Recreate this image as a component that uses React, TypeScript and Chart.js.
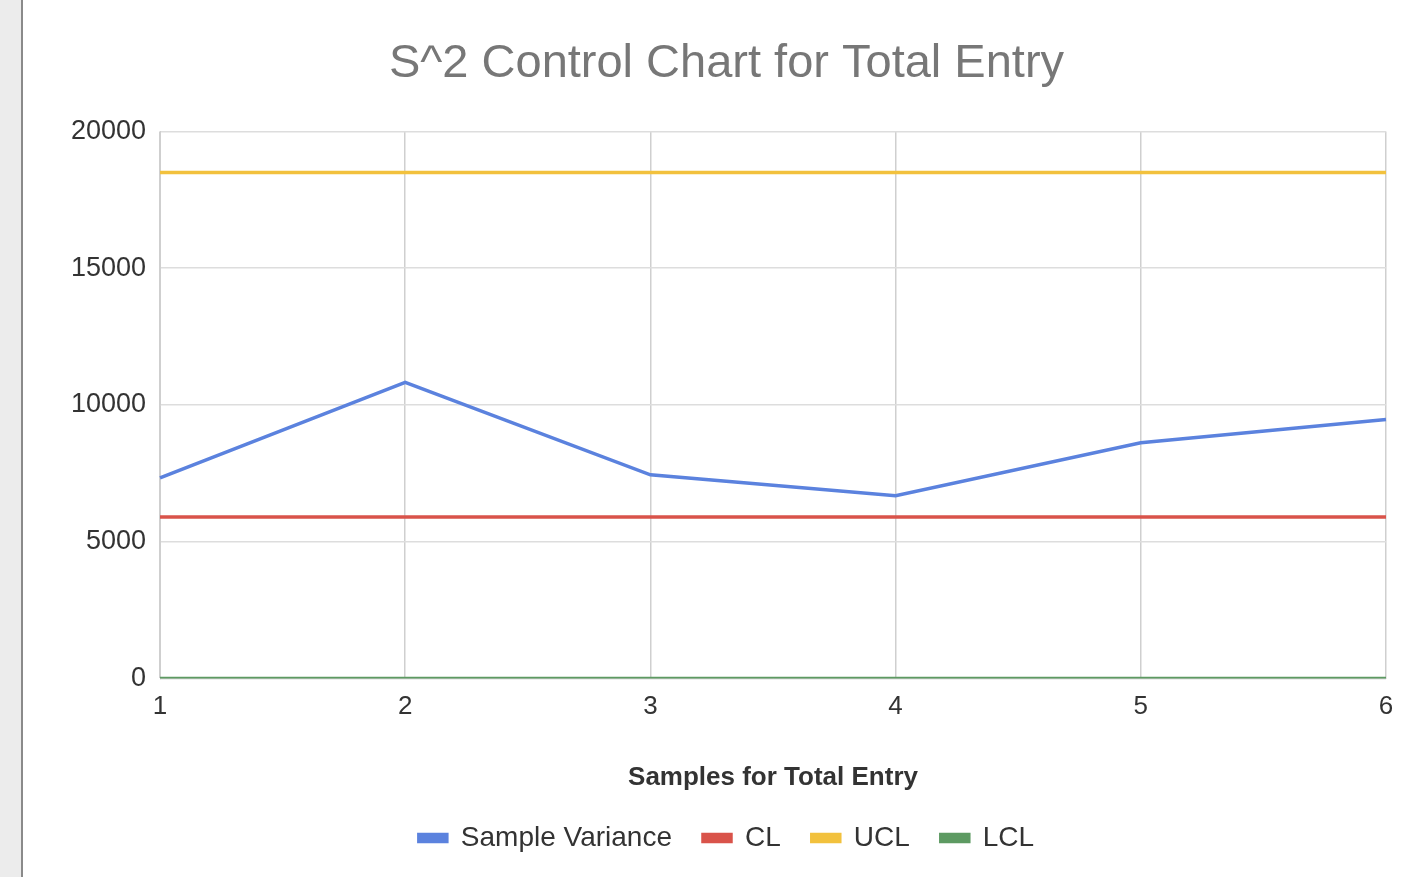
import React, { useEffect, useRef } from "react";
import { Chart, registerables } from "chart.js";

Chart.register(...registerables);

const samples = ["1", "2", "3", "4", "5", "6"];
const sampleVariance = [7340, 10830, 7450, 6680, 8620, 9470];
const clValues = [5910, 5910, 5910, 5910, 5910, 5910];
const uclValues = [18500, 18500, 18500, 18500, 18500, 18500];
const lclValues = [0, 0, 0, 0, 0, 0];
const yTicks = [0, 5000, 10000, 15000, 20000];

const FONT = "'Liberation Sans', Arial, sans-serif";

export default function App() {
  const ref = useRef<HTMLCanvasElement>(null);

  useEffect(() => {
    if (!ref.current) return;
    const chart = new Chart(ref.current, {
      type: "line",
      data: {
        labels: samples,
        datasets: [
          { label: "Sample Variance", data: sampleVariance, borderColor: "#5b82de", backgroundColor: "#5b82de", borderWidth: 3.5, pointRadius: 0, tension: 0 },
          { label: "CL", data: clValues, borderColor: "#d9534a", backgroundColor: "#d9534a", borderWidth: 3.5, pointRadius: 0 },
          { label: "UCL", data: uclValues, borderColor: "#f2c13d", backgroundColor: "#f2c13d", borderWidth: 3.5, pointRadius: 0 },
          { label: "LCL", data: lclValues, borderColor: "#5d9a62", backgroundColor: "#5d9a62", borderWidth: 3.5, pointRadius: 0 },
        ],
      },
      options: {
        animation: false,
        responsive: false,
        maintainAspectRatio: false,
        layout: { padding: { left: 43, right: 25, top: 22, bottom: 15 } },
        plugins: {
          title: {
            display: true,
            text: "S^2 Control Chart for Total Entry",
            color: "#777777",
            font: { family: FONT, size: 47, weight: "normal" },
            padding: { top: 14, bottom: 39 },
          },
          legend: {
            position: "bottom",
            labels: {
              color: "#333333",
              font: { family: FONT, size: 28 },
              boxWidth: 28,
              boxHeight: 7,
              padding: 31,
            },
          },
          tooltip: { enabled: false },
        },
        scales: {
          x: {
            offset: false,
            grid: { color: "#cfcfcf", lineWidth: 1.5, drawTicks: false },
            border: { color: "#cfcfcf" },
            ticks: { color: "#333333", font: { family: FONT, size: 26 }, padding: 13, maxRotation: 0 },
            title: {
              display: true,
              text: "Samples for Total Entry",
              color: "#333333",
              font: { family: FONT, size: 26, weight: "bold" },
              padding: { top: 26, bottom: 0 },
            },
          },
          y: {
            min: 0,
            max: 20000,
            afterBuildTicks: (scale: any) => {
              scale.ticks = yTicks.map((v) => ({ value: v }));
            },
            afterFit: (scale: any) => {
              scale.width = 93;
            },
            grid: { color: "#dddddd", lineWidth: 1.5, drawTicks: false },
            border: { color: "#cfcfcf" },
            ticks: {
              color: "#333333",
              font: { family: FONT, size: 27 },
              padding: 14,
              callback: (v: any) => String(v),
            },
          },
        },
      },
    });
    return () => chart.destroy();
  }, []);

  return (
    <div style={{ position: "fixed", left: 0, top: 0, width: 1411, height: 877, background: "#ffffff" }}>
      <div style={{ position: "absolute", left: 0, top: 0, width: 21, height: 877, background: "#ececec", borderRight: "2px solid #8a8a8a" }} />
      <canvas ref={ref} width={1387} height={877} style={{ position: "absolute", left: 24, top: 0, width: 1387, height: 877 }} />
    </div>
  );
}
